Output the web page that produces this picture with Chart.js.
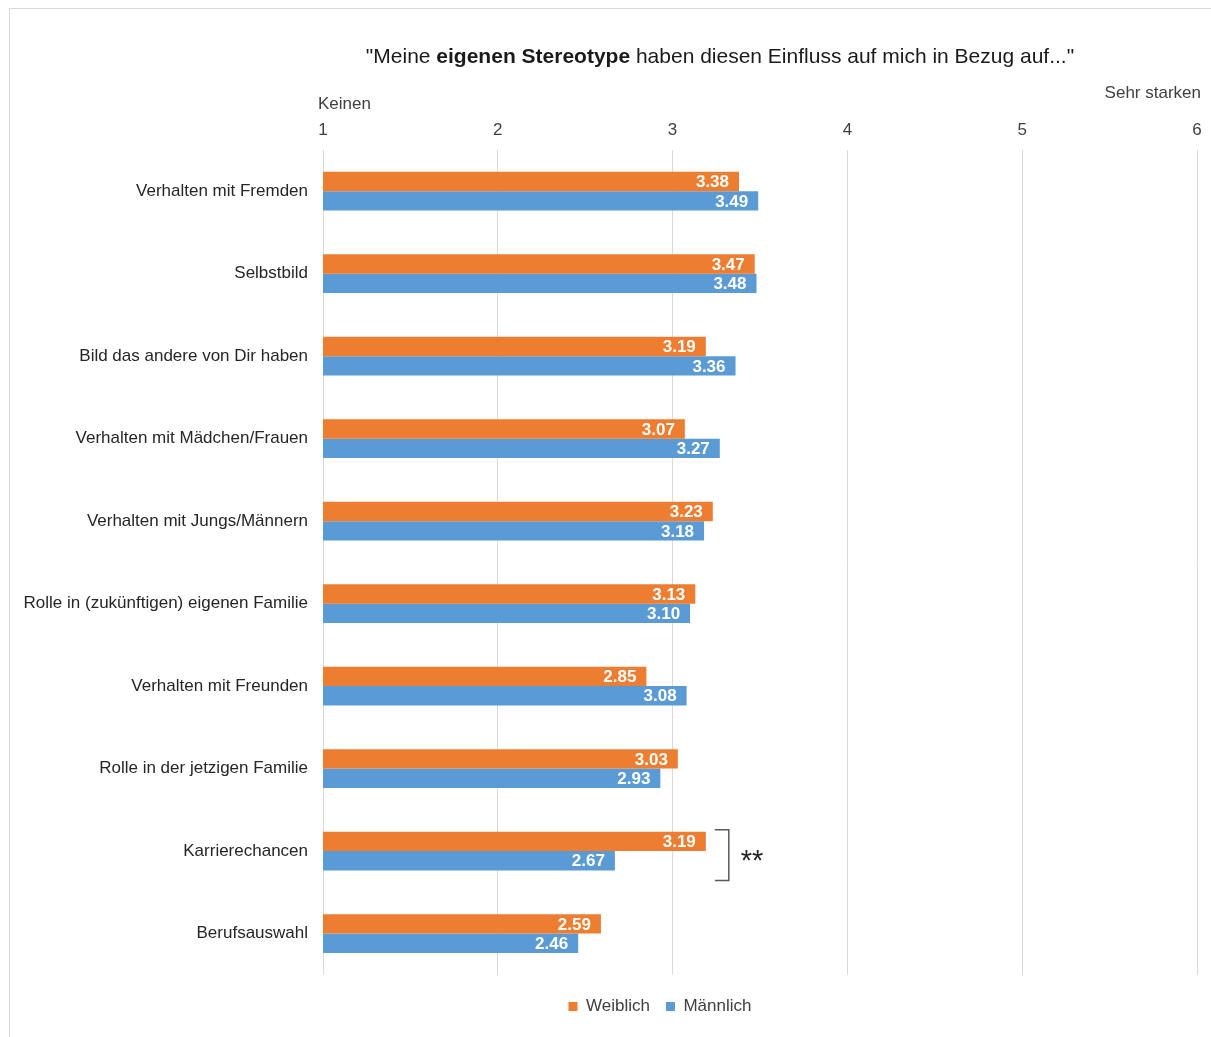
<!DOCTYPE html>
<html><head><meta charset="utf-8">
<script src="https://cdn.jsdelivr.net/npm/chart.js@4"></script>
<style>
html,body{margin:0;padding:0;background:#fff;}
#wrap{position:relative;width:1211px;height:1037px;}
#frame{position:absolute;left:9px;top:8px;width:1202px;height:1029px;border-top:1px solid #d9d9d9;border-left:1px solid #d9d9d9;box-sizing:border-box;pointer-events:none;}
canvas{position:absolute;left:0;top:0;}
</style></head>
<body><div id="wrap"><canvas id="c" width="1211" height="1037"></canvas><div id="frame"></div></div>
<script>
const categories = ["Verhalten mit Fremden","Selbstbild","Bild das andere von Dir haben","Verhalten mit Mädchen/Frauen","Verhalten mit Jungs/Männern","Rolle in (zukünftigen) eigenen Familie","Verhalten mit Freunden","Rolle in der jetzigen Familie","Karrierechancen","Berufsauswahl"];
const weiblich = [3.38,3.47,3.19,3.07,3.23,3.13,2.85,3.03,3.19,2.59];
const maennlich = [3.49,3.48,3.36,3.27,3.18,3.10,3.08,2.93,2.67,2.46];
const seriesNames = ["Weiblich","Männlich"];
const tickValues = [1,2,3,4,5,6];
const axisLow = "Keinen", axisHigh = "Sehr starken";
const titleParts = [['"Meine ',false],['eigenen Stereotype',true],[' haben diesen Einfluss auf mich in Bezug auf..."',false]];
const sigIndex = 8, sigText = "**";

const FONT = "'Liberation Sans', Arial, sans-serif";

const labelsPlugin = {
  id:'valueLabels',
  afterDatasetsDraw(chart){
    const ctx = chart.ctx;
    ctx.save();
    ctx.font = "bold 17px " + FONT;
    ctx.fillStyle = "#fff";
    ctx.textAlign = "right";
    ctx.textBaseline = "middle";
    chart.data.datasets.forEach((ds,i)=>{
      chart.getDatasetMeta(i).data.forEach((el,j)=>{
        ctx.fillText(ds.data[j].toFixed(2), el.x - 10, el.y + 1);
      });
    });
    ctx.restore();
  }
};

const legendShift = {
  id:'legendShift',
  afterLayout(chart){
    const lg = chart.legend;
    if(!lg) return;
    const d = 660 - (lg.left + lg.right)/2;
    lg.left += d; lg.right += d;
    if (lg.legendHitBoxes) lg.legendHitBoxes.forEach(h=>{h.left += d;});
  }
};

const decoPlugin = {
  id:'deco',
  afterDraw(chart){
    const ctx = chart.ctx;
    const xs = chart.scales.x;
    ctx.save();
    ctx.textBaseline = "middle";
    ctx.fillStyle = "#1a1a1a";
    let total = 0;
    titleParts.forEach(p=>{ctx.font=(p[1]?"bold ":"")+"21px "+FONT; total += ctx.measureText(p[0]).width;});
    let x = 720 - total/2;
    ctx.textAlign = "left";
    titleParts.forEach(p=>{ctx.font=(p[1]?"bold ":"")+"21px "+FONT; ctx.fillText(p[0], x, 57); x += ctx.measureText(p[0]).width;});
    ctx.font = "17px " + FONT;
    ctx.fillStyle = "#404040";
    ctx.textAlign = "left";
    ctx.fillText(axisLow, xs.getPixelForValue(1) - 5, 104);
    ctx.textAlign = "right";
    ctx.fillText(axisHigh, xs.getPixelForValue(6) + 4, 93);
    const m0 = chart.getDatasetMeta(0).data[sigIndex], m1 = chart.getDatasetMeta(1).data[sigIndex];
    const bx0 = xs.getPixelForValue(Math.max(weiblich[sigIndex], maennlich[sigIndex])) + 9;
    const bx1 = bx0 + 14;
    const top = m0.y - m0.height/2 - 2;
    const bot = m1.y + m1.height/2 + 10;
    ctx.strokeStyle = "#595959";
    ctx.lineWidth = 1.5;
    ctx.beginPath();
    ctx.moveTo(bx0, top); ctx.lineTo(bx1, top); ctx.lineTo(bx1, bot); ctx.lineTo(bx0, bot);
    ctx.stroke();
    ctx.fillStyle = "#262626";
    ctx.font = "29px " + FONT;
    ctx.textAlign = "left";
    ctx.textBaseline = "alphabetic";
    ctx.fillText(sigText, bx1 + 12, (top+bot)/2 + 15);
    ctx.restore();
  }
};

new Chart(document.getElementById('c'), {
  type:'bar',
  data:{
    labels: categories,
    datasets:[
      {label:seriesNames[0], data:weiblich, backgroundColor:'#ED7D31'},
      {label:seriesNames[1], data:maennlich, backgroundColor:'#5B9BD5'}
    ]
  },
  options:{
    indexAxis:'y',
    responsive:false,
    animation:false,
    devicePixelRatio:1,
    categoryPercentage:0.47,
    barPercentage:1,
    layout:{padding:{left:10,right:14,top:100,bottom:12}},
    scales:{
      x:{
        position:'top',
        min:1,max:6,
        afterBuildTicks(s){ s.ticks = tickValues.map(v=>({value:v})); },
        afterFit(s){ s.height = 50; },
        ticks:{color:'#404040', font:{family:FONT,size:17}, padding:9, maxRotation:0},
        grid:{color:'#d9d9d9', lineWidth:1, drawTicks:false},
        border:{display:false}
      },
      y:{
        afterFit(s){ s.width = 313; },
        ticks:{color:'#262626', font:{family:FONT,size:17}, padding:7, autoSkip:false},
        grid:{display:false},
        border:{display:false}
      }
    },
    plugins:{
      legend:{
        position:'bottom',
        title:{display:true, text:' ', font:{size:1}, padding:{top:6,bottom:0}},
        labels:{boxWidth:9, boxHeight:9, color:'#404040', font:{family:FONT,size:17}, padding:16}
      },
      tooltip:{enabled:false},
      title:{display:false}
    }
  },
  plugins:[labelsPlugin, decoPlugin, legendShift]
});
</script></body></html>
